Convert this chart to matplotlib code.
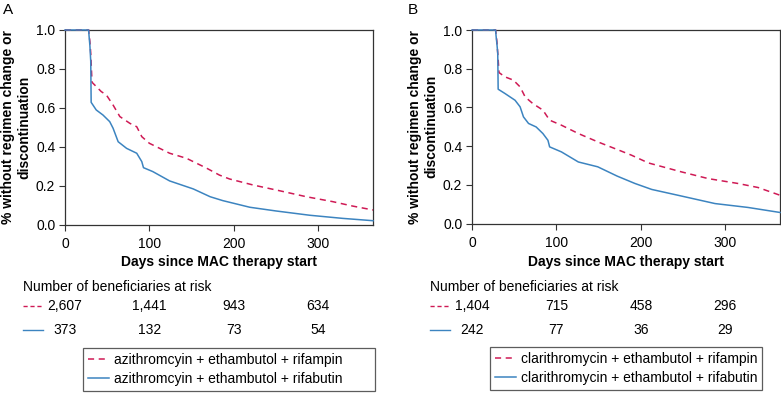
import matplotlib
matplotlib.use("Agg")
import matplotlib.pyplot as plt
import matplotlib.transforms as mtransforms
import numpy as np

plt.rcParams['font.family'] = ['Liberation Sans', 'DejaVu Sans']

# Panel A: azithromycin regimens (days, survival)
a_red_days = [0, 28, 28.5, 29.5, 30.5, 32, 43, 49, 57, 65, 77, 85, 91, 100, 124, 144, 168, 183,
              195, 223, 254, 286, 317, 341, 365]
a_red_vals = [1.0, 1.0, 0.98, 0.94, 0.88, 0.732, 0.684, 0.667, 0.615, 0.556, 0.521, 0.504, 0.453,
              0.419, 0.368, 0.342, 0.291, 0.256, 0.236, 0.205, 0.176, 0.145, 0.12, 0.097, 0.077]
a_blue_days = [0, 28, 28.5, 29.5, 30.5, 31, 37, 45, 53, 57, 63, 73, 85, 91, 93, 104, 124, 152, 172,
               187, 219, 250, 290, 329, 365]
a_blue_vals = [1.0, 1.0, 0.97, 0.92, 0.84, 0.629, 0.59, 0.564, 0.53, 0.496, 0.427, 0.393, 0.368,
               0.325, 0.294, 0.274, 0.226, 0.185, 0.145, 0.125, 0.091, 0.072, 0.05, 0.034, 0.022]

# Panel B: clarithromycin regimens
b_red_days = [0, 28, 28.5, 29.5, 30.5, 32, 39, 49, 57, 63, 72, 84, 92, 106, 126, 149, 177, 189, 209,
              248, 280, 315, 339, 365]
b_red_vals = [1.0, 1.0, 0.98, 0.94, 0.88, 0.78, 0.758, 0.741, 0.706, 0.654, 0.62, 0.586, 0.534,
              0.508, 0.465, 0.422, 0.374, 0.353, 0.313, 0.267, 0.232, 0.207, 0.186, 0.146]
b_blue_days = [0, 28, 28.5, 29.5, 30.5, 31, 39, 51, 57, 61, 67, 76, 84, 90, 92, 106, 126, 149, 172,
               193, 213, 244, 288, 327, 365]
b_blue_vals = [1.0, 1.0, 0.97, 0.93, 0.88, 0.694, 0.672, 0.637, 0.603, 0.551, 0.517, 0.499, 0.465,
               0.43, 0.396, 0.37, 0.318, 0.293, 0.245, 0.207, 0.176, 0.146, 0.103, 0.083, 0.057]

risk_days = [0, 100, 200, 300]
a_risk_red = ['2,607', '1,441', '943', '634']
a_risk_blue = ['373', '132', '73', '54']
b_risk_red = ['1,404', '715', '458', '296']
b_risk_blue = ['242', '77', '36', '29']

a_labels = ['azithromcyin + ethambutol + rifampin', 'azithromcyin + ethambutol + rifabutin']
b_labels = ['clarithromycin + ethambutol + rifampin', 'clarithromycin + ethambutol + rifabutin']

red = '#cf1a55'
blue = '#3c84c0'
W, H = 781, 393
fs = 10

fig = plt.figure(figsize=(7.81, 3.93), dpi=100)


def panel(left_px, top_px, right_px, bottom_px, letter, letter_x, red_d, red_v, blue_d, blue_v,
          risk_r, risk_b, labels, ylab_x, risk_x0, leg_box):
    ax = fig.add_axes([left_px / W, 1 - bottom_px / H, (right_px - left_px) / W,
                       (bottom_px - top_px) / H])
    l1, = ax.plot(red_d, red_v, color=red, lw=1.1, ls=(0, (4, 3)), clip_on=False, zorder=3)
    l2, = ax.plot(blue_d, blue_v, color=blue, lw=1.1, clip_on=False, zorder=3)
    ax.set_xlim(0, 365)
    ax.set_ylim(0, 1.0)
    ax.set_xticks([0, 100, 200, 300])
    ax.set_yticks([0, 0.2, 0.4, 0.6, 0.8, 1.0])
    ax.set_yticklabels(['0.0', '0.2', '0.4', '0.6', '0.8', '1.0'])
    ax.tick_params(labelsize=fs, length=4, width=0.8, color='#333333')
    ax.tick_params(axis='x', pad=5)
    ax.tick_params(axis='y', pad=3)
    for s in ax.spines.values():
        s.set_color('#333333')
        s.set_linewidth(0.9)
    cx = (left_px + right_px) / 2
    fig.text(cx / W, 1 - 262 / H, 'Days since MAC therapy start', ha='center', va='center',
             fontsize=fs, fontweight='bold')
    fig.text(ylab_x / W, 1 - (top_px + bottom_px) / 2 / H,
             '% without regimen change or\ndiscontinuation', rotation=90, ha='center',
             va='center', fontsize=fs, fontweight='bold', multialignment='center',
             linespacing=1.2)
    fig.text(letter_x / W, 1 - 10 / H, letter, ha='left', va='center', fontsize=11)

    # risk table
    tr = mtransforms.blended_transform_factory(ax.transData, fig.transFigure)
    fig.text(risk_x0 / W, 1 - 287 / H, 'Number of beneficiaries at risk', ha='left',
             va='center', fontsize=fs)
    for d, r, b in zip(risk_days, risk_r, risk_b):
        ax.text(d, 1 - 306 / H, r, transform=tr, ha='center', va='center', fontsize=fs,
                clip_on=False)
        ax.text(d, 1 - 330 / H, b, transform=tr, ha='center', va='center', fontsize=fs,
                clip_on=False)
    fig.add_artist(plt.Line2D([risk_x0 / W, (risk_x0 + 20) / W], [1 - 306 / H] * 2,
                              color=red, lw=1.0, ls=(0, (3, 2))))
    fig.add_artist(plt.Line2D([risk_x0 / W, (risk_x0 + 20) / W], [1 - 330 / H] * 2,
                              color=blue, lw=1.0))

    lx0, ly0, lx1, ly1 = leg_box
    leg = fig.legend([l1, l2], labels, loc='upper left', mode='expand',
                     bbox_to_anchor=(lx0 / W, 1 - ly1 / H, (lx1 - lx0) / W, (ly1 - ly0) / H),
                     fontsize=fs, frameon=True, fancybox=False, edgecolor='#333333',
                     handlelength=1.5, handletextpad=0.35, borderpad=0.35, labelspacing=0.35,
                     borderaxespad=0)
    leg.get_frame().set_linewidth(0.9)
    return ax


panel(65, 30, 373, 225, 'A', 3, a_red_days, a_red_vals, a_blue_days, a_blue_vals,
      a_risk_red, a_risk_blue, a_labels, 16, 23, (83, 348, 375, 393))
panel(472, 30, 780, 223.5, 'B', 408, b_red_days, b_red_vals, b_blue_days, b_blue_vals,
      b_risk_red, b_risk_blue, b_labels, 423, 430, (490, 347, 762, 391))

fig.savefig('out.png', dpi=100)
